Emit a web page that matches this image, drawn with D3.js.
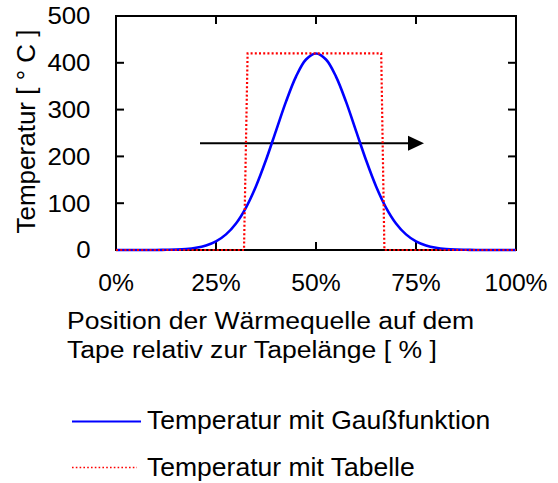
<!DOCTYPE html>
<html>
<head>
<meta charset="utf-8">
<script src="https://cdn.jsdelivr.net/npm/d3@7/dist/d3.min.js"></script>
<style>
  html, body { margin: 0; padding: 0; background: #fff; }
  text { font-family: "Liberation Sans", Arial, Helvetica, sans-serif; fill: #000; }
</style>
</head>
<body>
<svg id="chart" width="558" height="483"></svg>
<script>
// Position along the tape [%] and temperature [°C]
const gaussX = [0, 2.5, 5, 7.5, 10, 12.5, 15, 17.5, 20, 22.5, 25, 27.5, 30, 32.5, 35, 37.5, 40, 42.5, 45, 47.5,
                50, 52.5, 55, 57.5, 60, 62.5, 65, 67.5, 70, 72.5, 75, 77.5, 80, 82.5, 85, 87.5, 90, 92.5, 95, 97.5, 100];
const gaussT = [0, 0, 0, 0, 0.1, 0.4, 0.9, 2.1, 4.7, 9.6, 18.4, 33.4, 56.8, 90.8, 136.3, 192.3, 254.7, 317, 370.6, 407.1,
                420, 407.1, 370.6, 317, 254.7, 192.3, 136.3, 90.8, 56.8, 33.4, 18.4, 9.6, 4.7, 2.1, 0.9, 0.4, 0.1, 0, 0, 0, 0];

const tableX = [0, 32, 32.9, 66.3, 67.1, 100];
const tableT = [0, 0, 420, 420, 0, 0];

// Direction of travel of the heat source
const arrowX = [21, 77];
const arrowT = 228;

const xTicks = [0, 25, 50, 75, 100];
const xTickLabels = ["0%", "25%", "50%", "75%", "100%"];
const yTicks = [0, 100, 200, 300, 400, 500];
const yTickLabels = ["0", "100", "200", "300", "400", "500"];

const seriesNames = ["Temperatur mit Gaußfunktion", "Temperatur mit Tabelle"];
const yTitle = "Temperatur [ ° C ]";
const xTitleLines = ["Position der Wärmequelle auf dem", "Tape relativ zur Tapelänge [ % ]"];

const svg = d3.select("#chart");
const plotL = 116, plotR = 516, plotT = 16, plotB = 250;

const x = d3.scaleLinear().domain([0, 100]).range([plotL, plotR]);
const y = d3.scaleLinear().domain([0, 500]).range([plotB, plotT]);

function label(g, px, py, s, size, sx, anchor) {
  return g.append("text")
    .attr("transform", `translate(${px},${py}) scale(${sx},1)`)
    .attr("text-anchor", anchor || "start")
    .style("font-size", size + "px")
    .text(s);
}

const blue = "#0000ff", red = "#ff0000";

// Arrow
const ay = y(arrowT);
const ax0 = x(arrowX[0]), ax1 = x(arrowX[1]);
svg.append("line")
  .attr("x1", ax0).attr("x2", ax1 - 14)
  .attr("y1", ay).attr("y2", ay)
  .attr("stroke", "#000").attr("stroke-width", 2);
svg.append("path")
  .attr("d", `M${ax1},${ay} L${ax1 - 16},${ay - 7.5} L${ax1 - 16},${ay + 7.5} Z`)
  .attr("fill", "#000");

// Frame
svg.append("rect")
  .attr("x", plotL).attr("y", plotT)
  .attr("width", plotR - plotL).attr("height", plotB - plotT)
  .attr("fill", "none").attr("stroke", "#000").attr("stroke-width", 2);

// Inward ticks on all four sides
const tickLen = 8;
const g = svg.append("g").attr("stroke", "#000").attr("stroke-width", 2);
xTicks.forEach(v => {
  g.append("line").attr("x1", x(v)).attr("x2", x(v)).attr("y1", plotB).attr("y2", plotB - tickLen);
  g.append("line").attr("x1", x(v)).attr("x2", x(v)).attr("y1", plotT).attr("y2", plotT + tickLen);
});
yTicks.forEach(v => {
  g.append("line").attr("x1", plotL).attr("x2", plotL + tickLen).attr("y1", y(v)).attr("y2", y(v));
  g.append("line").attr("x1", plotR).attr("x2", plotR - tickLen).attr("y1", y(v)).attr("y2", y(v));
});

// Tick labels
const tl = svg.append("g");
yTicks.forEach((v, i) => label(tl, plotL - 25.5, y(v) + 8.4, yTickLabels[i], 23.5, 1.1, "end"));
xTicks.forEach((v, i) => label(tl, x(v), 290.7, xTickLabels[i], 23.5, 1.05, "middle"));

// Axis titles
svg.append("text")
  .attr("transform", `translate(35,${(plotT + plotB) / 2 - 1.5}) rotate(-90)`)
  .attr("text-anchor", "middle")
  .style("font-size", "26px")
  .text(yTitle);
label(svg, 67, 328.5, xTitleLines[0], 23.5, 1.13);
label(svg, 67, 358, xTitleLines[1], 23.5, 1.13);

// Series
const gaussLine = d3.line().x(d => x(d[0])).y(d => y(d[1])).curve(d3.curveCatmullRom);
const tableLine = d3.line().x(d => x(d[0])).y(d => y(d[1]));

svg.append("path")
  .datum(d3.zip(gaussX, gaussT))
  .attr("d", gaussLine)
  .attr("fill", "none").attr("stroke", blue).attr("stroke-width", 2.6);

svg.append("path")
  .datum(d3.zip(tableX, tableT))
  .attr("d", tableLine)
  .attr("fill", "none").attr("stroke", red).attr("stroke-width", 2.2)
  .attr("stroke-dasharray", "2,2.2");

// Legend
const lg = svg.append("g");
lg.append("line").attr("x1", 72).attr("x2", 141).attr("y1", 421.5).attr("y2", 421.5)
  .attr("stroke", blue).attr("stroke-width", 2.2);
label(lg, 147, 429.3, seriesNames[0], 26, 1.02);
lg.append("line").attr("x1", 72).attr("x2", 137).attr("y1", 467.5).attr("y2", 467.5)
  .attr("stroke", red).attr("stroke-width", 1.6).attr("stroke-dasharray", "1.6,2.2");
label(lg, 147, 475.5, seriesNames[1], 26, 1.02);
</script>
</body>
</html>
